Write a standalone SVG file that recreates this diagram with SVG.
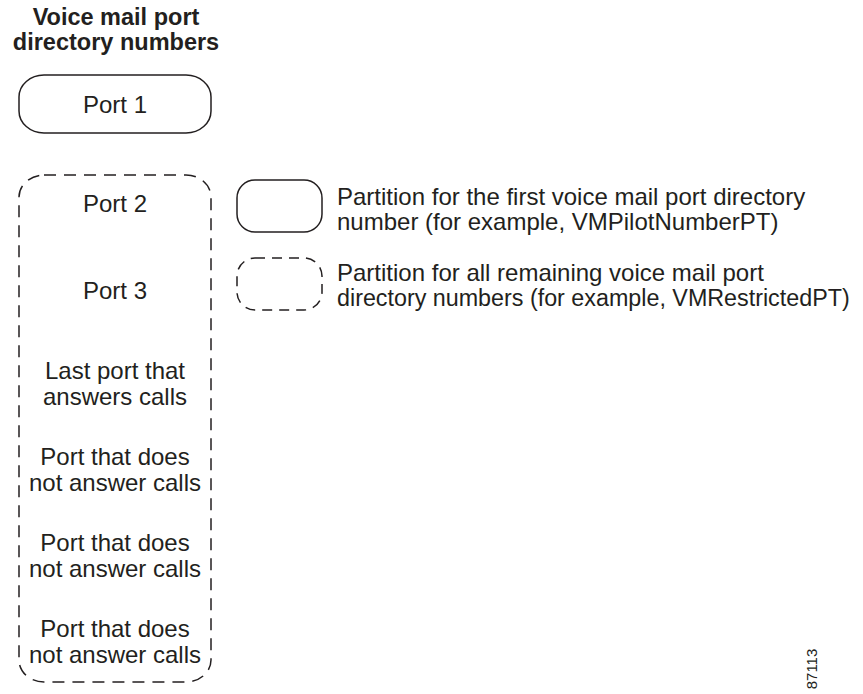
<svg xmlns="http://www.w3.org/2000/svg" width="863" height="694" viewBox="0 0 863 694">
<style>
.t{font-family:"Liberation Sans",Arial,sans-serif;font-size:24px;fill:#231f20}
.c{text-anchor:middle}
.b{font-weight:bold;font-size:23.5px}
.solid{fill:none;stroke:#231f20;stroke-width:1.5}
.dash{fill:none;stroke:#231f20;stroke-width:1.5;stroke-dasharray:12 8}
.dash2{fill:none;stroke:#231f20;stroke-width:1.5;stroke-dasharray:10 7}
</style>
<rect width="863" height="694" fill="#fff"/>
<g id="title">
<text class="t c b" x="116" y="25">Voice mail port</text>
<text class="t c b" x="116" y="50">directory numbers</text>
</g>
<g id="port1">
<rect class="solid" x="19" y="75" width="192" height="58" rx="25" ry="22"/>
<text class="t c" x="115" y="113">Port 1</text>
</g>
<g id="restricted">
<rect class="dash" x="19" y="175" width="192" height="507" rx="25" ry="22"/>
<text class="t c" x="115" y="212">Port 2</text>
<text class="t c" x="115" y="299">Port 3</text>
<text class="t c" x="115" y="379">Last port that</text>
<text class="t c" x="115" y="405">answers calls</text>
<text class="t c" x="115" y="465">Port that does</text>
<text class="t c" x="115" y="491">not answer calls</text>
<text class="t c" x="115" y="551">Port that does</text>
<text class="t c" x="115" y="577">not answer calls</text>
<text class="t c" x="115" y="637">Port that does</text>
<text class="t c" x="115" y="663">not answer calls</text>
</g>
<g id="legend-solid">
<rect class="solid" x="237" y="180" width="85" height="52" rx="18"/>
<text class="t" x="337" y="205">Partition for the first voice mail port directory</text>
<text class="t" x="337" y="230">number (for example, VMPilotNumberPT)</text>
</g>
<g id="legend-dashed">
<rect class="dash2" x="237" y="258" width="85" height="52" rx="18"/>
<text class="t" x="337" y="281">Partition for all remaining voice mail port</text>
<text class="t" x="337" y="306" style="font-size:23.3px">directory numbers (for example, VMRestrictedPT)</text>
</g>
<g id="connectors"></g>
<text class="t" style="font-size:15px" transform="translate(817,669) rotate(-90)" text-anchor="middle">87113</text>
</svg>
